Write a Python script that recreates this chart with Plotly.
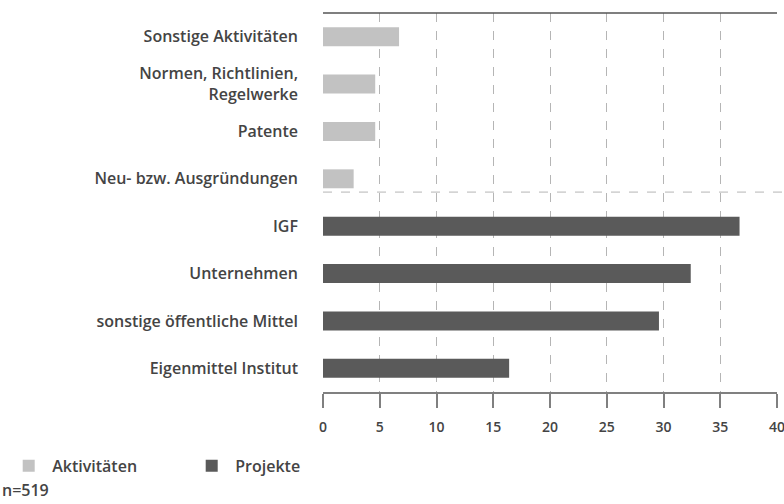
import plotly.graph_objects as go

categories = ["Eigenmittel Institut", "sonstige öffentliche Mittel", "Unternehmen", "IGF",
              "Neu- bzw. Ausgründungen", "Patente", "Normen, Richtlinien,<br>Regelwerke",
              "Sonstige Aktivitäten"]
projekte_cats = categories[:4]
projekte_vals = [16.4, 29.6, 32.4, 36.7]
aktiv_cats = categories[4:]
aktiv_vals = [2.7, 4.6, 4.6, 6.7]
x_ticks = [0, 5, 10, 15, 20, 25, 30, 35, 40]
note = "n=519"

FONT = "Open Sans"
TXT = "#444444"
W = 600
fig = go.Figure()
fig.add_trace(go.Bar(y=aktiv_cats, x=aktiv_vals, orientation="h", name="Aktivitäten",
                     marker=dict(color="#c2c2c2", line=dict(width=0)), width=0.4))
fig.add_trace(go.Bar(y=projekte_cats, x=projekte_vals, orientation="h", name="Projekte",
                     marker=dict(color="#5a5a5a", line=dict(width=0)), width=0.4))

fig.update_layout(
    width=784, height=504,
    margin=dict(l=323, r=7, t=13, b=112, autoexpand=False),
    plot_bgcolor="white", paper_bgcolor="white",
    barmode="relative",
    font=dict(family=FONT, size=16, color=TXT, weight=W),
    showlegend=True,
    legend=dict(orientation="h", x=-0.7, xanchor="left", y=-0.195, yanchor="middle",
                entrywidth=131, entrywidthmode="pixels", traceorder="normal",
                font=dict(size=16, color=TXT, weight=W), itemwidth=37),
    xaxis=dict(range=[0, 40], tickvals=x_ticks, showgrid=True, gridcolor="#b5b5b5",
               griddash="dash", gridwidth=1, zeroline=False, showline=True,
               linecolor="#808080", linewidth=1.5, ticks="outside", ticklen=14,
               tickcolor="#808080", tickwidth=1.5, automargin=False,
               ticklabeloverflow="allow", ticklabelstandoff=7,
               tickfont=dict(size=14, color=TXT, weight=W)),
    yaxis=dict(categoryorder="array", categoryarray=categories, range=[-0.5, 7.5],
               showgrid=False, zeroline=False, showline=False, ticks="", automargin=False,
               ticklabelstandoff=24, tickfont=dict(size=16, color=TXT, weight=W)),
    annotations=[dict(text=note, xref="paper", yref="paper", x=-0.711, y=-0.2586,
                      xanchor="left", yanchor="middle", showarrow=False,
                      font=dict(size=16, color=TXT, weight=W))],
    shapes=[
        dict(type="line", xref="paper", yref="paper", x0=0, x1=1, y0=1, y1=1,
             line=dict(color="#555555", width=1.5)),
        dict(type="line", xref="paper", yref="y", x0=0, x1=1.02, y0=3.72, y1=3.72,
             line=dict(color="#b5b5b5", width=1, dash="dash")),
    ],
)
fig.write_html("out.html", config={"displayModeBar": False},
               post_script="document.body.style.margin='0';")
